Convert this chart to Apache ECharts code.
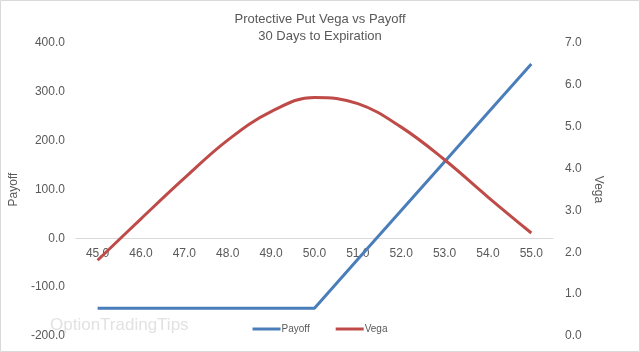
<!DOCTYPE html>
<html>
<head>
<meta charset="utf-8">
<script src="https://cdn.jsdelivr.net/npm/echarts@6/dist/echarts.min.js"></script>
<style>
  html, body { margin: 0; padding: 0; background: #fff; }
  #chart { width: 640px; height: 352px; }
</style>
</head>
<body>
<div id="chart"></div>
<script>
// stock price at expiration
const prices = ['45.0', '46.0', '47.0', '48.0', '49.0', '50.0', '51.0', '52.0', '53.0', '54.0', '55.0']
const payoff = [-143, -143, -143, -143, -143, -143, -43, 57, 157, 257, 357]
const vega = [1.81, 2.80, 3.77, 4.68, 5.36, 5.70, 5.55, 4.99, 4.21, 3.32, 2.46]

const font = '"Liberation Sans", "DejaVu Sans", sans-serif'
const textColor = '#595959'

const chart = echarts.init(document.getElementById('chart'))

chart.setOption({
  animation: false,
  backgroundColor: '#fff',
  title: {
    text: 'Protective Put Vega vs Payoff\n30 Days to Expiration',
    left: 'center',
    top: 6,
    textStyle: { fontFamily: font, fontSize: 13, fontWeight: 'normal', color: textColor, lineHeight: 17 },
  },
  legend: {
    bottom: 13,
    left: 'center',
    itemWidth: 28,
    itemHeight: 3,
    itemGap: 26,
    icon: 'rect',
    textStyle: { fontFamily: font, fontSize: 10, color: textColor, padding: [0, 0, 0, -4] },
    data: ['Payoff', 'Vega'],
  },
  grid: { left: 62, right: 87, top: 43, bottom: 16, containLabel: false },
  xAxis: {
    type: 'category',
    data: prices,
    boundaryGap: true,
    axisLine: { onZero: true, onZeroAxisIndex: 0, lineStyle: { color: '#d9d9d9' } },
    axisTick: { show: false },
    // labels sit just under the zero line, as in the source chart
    axisLabel: { fontFamily: font, fontSize: 12, color: textColor, margin: -88 },
    splitLine: { show: false },
  },
  yAxis: [
    {
      type: 'value',
      name: 'Payoff',
      nameLocation: 'middle',
      nameGap: 47,
      nameTextStyle: { fontFamily: font, fontSize: 12, color: textColor },
      min: -200,
      max: 400,
      interval: 100,
      axisLine: { show: false },
      axisTick: { show: false },
      splitLine: { show: false },
      axisLabel: {
        fontFamily: font, fontSize: 12, color: textColor, margin: 11,
        formatter: v => v.toFixed(1),
      },
    },
    {
      type: 'value',
      name: 'Vega',
      nameLocation: 'middle',
      nameGap: 33,
      nameRotate: -90,
      nameTextStyle: { fontFamily: font, fontSize: 12, color: textColor },
      min: 0,
      max: 7,
      interval: 1,
      axisLine: { show: false },
      axisTick: { show: false },
      splitLine: { show: false },
      axisLabel: {
        fontFamily: font, fontSize: 12, color: textColor, margin: 12,
        formatter: v => v.toFixed(1),
      },
    },
  ],
  graphic: [
    {
      type: 'rect',
      shape: { x: 0.5, y: 0.5, width: 639, height: 351 },
      style: { fill: 'none', stroke: '#d9d9d9', lineWidth: 1 },
      silent: true,
    },
    {
      type: 'text',
      left: 50,
      top: 317,
      z: -1,
      style: {
        text: 'OptionTradingTips',
        fontFamily: font,
        fontSize: 17,
        fill: '#e2e2e2',
      },
      silent: true,
    },
  ],
  series: [
    {
      name: 'Payoff',
      type: 'line',
      yAxisIndex: 0,
      data: payoff,
      showSymbol: false,
      lineStyle: { color: '#4a7ebb', width: 3 },
      itemStyle: { color: '#4a7ebb' },
    },
    {
      name: 'Vega',
      type: 'line',
      yAxisIndex: 1,
      data: vega,
      smooth: 0.4,
      showSymbol: false,
      lineStyle: { color: '#be4b48', width: 3 },
      itemStyle: { color: '#be4b48' },
    },
  ],
})
</script>
</body>
</html>
